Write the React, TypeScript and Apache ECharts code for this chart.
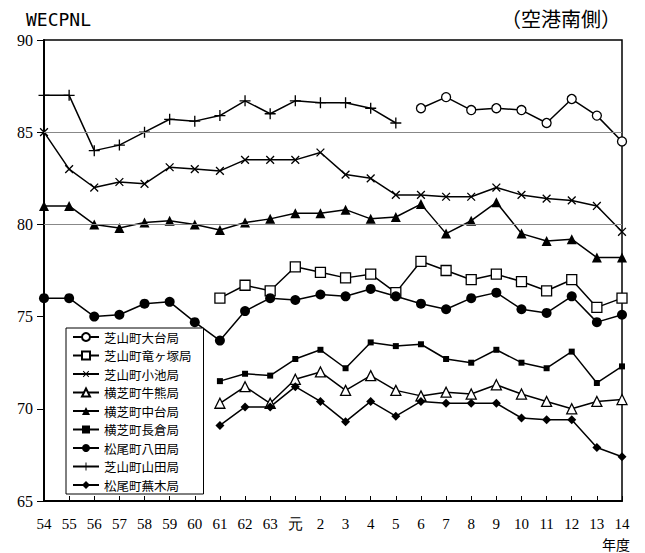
import React, { useEffect, useRef } from "react";
import * as echarts from "echarts";

const years = ["54","55","56","57","58","59","60","61","62","63","元","2","3","4","5","6","7","8","9","10","11","12","13","14"];
const yTicks = [65, 70, 75, 80, 85, 90];
const refLines = [80, 85];

const N = null;
const daidai = [N,N,N,N,N,N,N,N,N,N,N,N,N,N,N,86.3,86.9,86.2,86.3,86.2,85.5,86.8,85.9,84.5];
const ryugatsuka = [N,N,N,N,N,N,N,76.0,76.7,76.4,77.7,77.4,77.1,77.3,76.3,78.0,77.5,77.0,77.3,76.9,76.4,77.0,75.5,76.0];
const koike = [85.0,83.0,82.0,82.3,82.2,83.1,83.0,82.9,83.5,83.5,83.5,83.9,82.7,82.5,81.6,81.6,81.5,81.5,82.0,81.6,81.4,81.3,81.0,79.6];
const ushiguma = [N,N,N,N,N,N,N,70.3,71.2,70.3,71.6,72.0,71.0,71.8,71.0,70.7,70.9,70.8,71.3,70.8,70.4,70.0,70.4,70.5];
const nakadai = [81.0,81.0,80.0,79.8,80.1,80.2,80.0,79.7,80.1,80.3,80.6,80.6,80.8,80.3,80.4,81.1,79.5,80.2,81.2,79.5,79.1,79.2,78.2,78.2];
const nagakura = [N,N,N,N,N,N,N,71.5,71.9,71.8,72.7,73.2,72.2,73.6,73.4,73.5,72.7,72.5,73.2,72.5,72.2,73.1,71.4,72.3];
const hatta = [76.0,76.0,75.0,75.1,75.7,75.8,74.7,73.7,75.3,76.0,75.9,76.2,76.1,76.5,76.1,75.7,75.4,76.0,76.3,75.4,75.2,76.1,74.7,75.1];
const yamada = [87.0,87.0,84.0,84.3,85.0,85.7,85.6,85.9,86.7,86.0,86.7,86.6,86.6,86.3,85.5,N,N,N,N,N,N,N,N,N];
const kaburagi = [N,N,N,N,N,N,N,69.1,70.1,70.1,71.2,70.4,69.3,70.4,69.6,70.4,70.3,70.3,70.3,69.5,69.4,69.4,67.9,67.4];

const PLUS = "path://M0,4.4H10V5.6H0ZM4.4,0H5.6V10H4.4Z";

export default function App() {
  const ref = useRef<HTMLDivElement>(null);
  useEffect(() => {
    document.body.style.margin = "0";
    const chart = echarts.init(ref.current!, null, { renderer: "svg" });
    const serif = "Liberation Serif";
    const jp = "Noto Sans CJK JP";
    const mk = (name: string, data: any[], symbol: string, size: number, fill: string, extra: any = {}) => ({
      name,
      type: "line",
      data,
      symbol,
      symbolSize: size,
      showSymbol: true,
      lineStyle: { color: "#000", width: 1.5 },
      itemStyle: { color: fill, borderColor: "#000", borderWidth: fill === "#fff" ? 1.3 : 0 },
      emphasis: { disabled: true },
      ...extra,
    });
    const series: any[] = [
      mk("芝山町大台局", daidai, "circle", 9, "#fff", {
        markLine: {
          silent: true,
          symbol: "none",
          label: { show: false },
          lineStyle: { color: "#888", width: 1, type: "solid" },
          data: refLines.map((v) => ({ yAxis: v })),
        },
      }),
      mk("芝山町竜ヶ塚局", ryugatsuka, "rect", 10, "#fff"),
      mk("芝山町小池局", koike, PLUS, 11, "#000", { symbolRotate: 45 }),
      mk("横芝町牛熊局", ushiguma, "triangle", 10, "#fff"),
      mk("横芝町中台局", nakadai, "triangle", 10, "#000"),
      mk("横芝町長倉局", nagakura, "rect", 6, "#000"),
      mk("松尾町八田局", hatta, "circle", 10, "#000"),
      mk("芝山町山田局", yamada, PLUS, 11, "#000"),
      mk("松尾町蕪木局", kaburagi, "diamond", 9, "#000"),
    ];
    chart.setOption({
      animation: false,
      backgroundColor: "#fff",
      grid: { left: 44, right: 23, top: 40, bottom: 52, show: true, borderColor: "#000", borderWidth: 1.5 },
      xAxis: {
        type: "category",
        data: years,
        boundaryGap: false,
        axisLine: { lineStyle: { color: "#000", width: 2 } },
        axisTick: { inside: true, length: 5, lineStyle: { color: "#000" } },
        axisLabel: { color: "#000", fontFamily: serif, fontSize: 15, margin: 15, interval: 0 },
        splitLine: { show: false },
      },
      yAxis: [
        {
          type: "value",
          min: 65,
          max: 90,
          interval: 1,
          axisLine: { show: true, lineStyle: { color: "#000", width: 2 } },
          axisTick: { inside: true, length: 5, lineStyle: { color: "#000" } },
          axisLabel: {
            color: "#000",
            fontFamily: serif,
            fontSize: 16,
            margin: 11,
            formatter: (v: number) => (yTicks.includes(v) ? String(v) : ""),
          },
          splitLine: { show: false },
        },
        {
          type: "value",
          min: 65,
          max: 90,
          interval: 5,
          position: "left",
          axisLine: { show: false },
          axisTick: { show: true, inside: false, length: 7, lineStyle: { color: "#000" } },
          axisLabel: { show: false },
          splitLine: { show: false },
        },
      ],
      legend: {
        orient: "vertical",
        left: 66,
        top: 328,
        itemWidth: 26,
        itemHeight: 10,
        itemGap: 4.5,
        padding: [2, 12, 2, 6],
        borderColor: "#000",
        borderWidth: 1,
        backgroundColor: "#fff",
        textStyle: { color: "#000", fontFamily: jp, fontSize: 12.5, lineHeight: 14 },
        data: series.map((s) => s.name),
      },
      graphic: [
        {
          type: "text",
          left: 26,
          top: 10,
          style: { text: "WECPNL", fontFamily: "DejaVu Sans Mono", fontSize: 18, fill: "#000" },
        },
        {
          type: "text",
          right: 24,
          top: 8,
          style: { text: "（空港南側）", fontFamily: jp, fontSize: 20, fill: "#000" },
        },
        {
          type: "text",
          right: 15,
          top: 537,
          style: { text: "年度", fontFamily: jp, fontSize: 14, fill: "#000" },
        },
      ],
      series,
    });
    return () => chart.dispose();
  }, []);
  return <div ref={ref} style={{ position: "absolute", left: 0, top: 0, width: 645, height: 553 }} />;
}
